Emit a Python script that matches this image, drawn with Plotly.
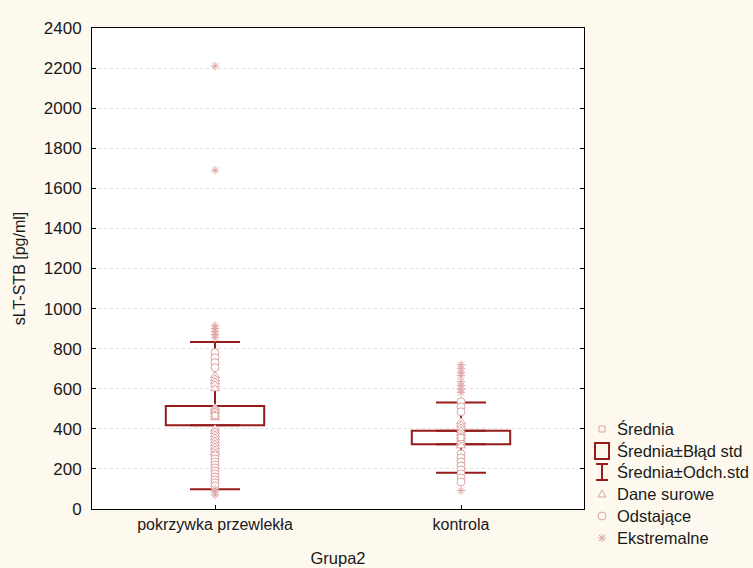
import numpy as np
import plotly.graph_objects as go

# ---- data -------------------------------------------------------------
categories = ["pokrzywka przewlekła", "kontrola"]

means = [466.0, 356.5]
std_errors = [47.5, 33.5]
std_devs = [367.5, 175.5]

raw_pokrzywka = [665, 650, 635, 620, 600, 505, 495, 485, 470, 455,
                 400, 385, 370, 355, 340, 325, 310, 295, 280]
outliers_pokrzywka = [780, 755, 730, 705, 265, 250, 235, 220, 205, 190,
                      175, 160, 145, 130, 115]
extremes_pokrzywka = [2210, 1690, 915, 900, 885, 870, 855, 100, 85, 70]

raw_kontrola = [435, 420, 405, 390, 375, 360, 345, 330, 315]
outliers_kontrola = [535, 510, 485, 275, 255, 235, 215, 195, 175, 155, 135]
extremes_kontrola = [720, 700, 680, 665, 635, 615, 598, 582, 92]

y_ticks = list(range(0, 2401, 200))

legend_labels = ["Średnia", "Średnia±Błąd std", "Średnia±Odch.std",
                 "Dane surowe", "Odstające", "Ekstremalne"]

# ---- styling ----------------------------------------------------------
DARK = "#961c1c"
PINK = "#dfa3a3"
PAPER = "#fdf9ef"
FONT = "Liberation Sans, Arial, sans-serif"
TXT = "#1a1a1a"
FS = 16.5

W, H = 753, 568
L, R, T, B = 92, 584, 28, 509   # plot area in pixels


def px_x(px):
    return (px - L) / (R - L)


def px_y(py):
    return (B - py) / (B - T)


fig = go.Figure()

means_a = np.array(means)
se_a = np.array(std_errors)
sd_a = np.array(std_devs)

# mean ± standard error box
fig.add_trace(go.Bar(
    x=categories, y=2 * se_a, base=means_a - se_a, width=0.4,
    marker=dict(color="rgba(0,0,0,0)", line=dict(color=DARK, width=2)),
    showlegend=False, hoverinfo="skip"))

# mean ± standard deviation whiskers (from box edges outwards)
fig.add_trace(go.Scatter(
    x=categories, y=means_a + se_a, mode="markers",
    marker=dict(size=1, opacity=0),
    error_y=dict(type="data", symmetric=False, array=sd_a - se_a,
                 arrayminus=[0] * len(categories), width=25,
                 thickness=2, color=DARK),
    showlegend=False, hoverinfo="skip"))
fig.add_trace(go.Scatter(
    x=categories, y=means_a - se_a, mode="markers",
    marker=dict(size=1, opacity=0),
    error_y=dict(type="data", symmetric=False, array=[0] * len(categories),
                 arrayminus=sd_a - se_a, width=25,
                 thickness=2, color=DARK),
    showlegend=False, hoverinfo="skip"))


def points(values, cat, symbol, size):
    if symbol.startswith("asterisk"):
        marker = dict(symbol=symbol, size=size, color=PINK,
                      line=dict(color=PINK, width=1))
    else:
        marker = dict(symbol=symbol, size=size, color="white",
                      line=dict(color=PINK, width=1))
    return go.Scatter(x=[cat] * len(values), y=values, mode="markers",
                      marker=marker, showlegend=False)


fig.add_trace(points(raw_pokrzywka, categories[0], "triangle-up", 8))
fig.add_trace(points(raw_kontrola, categories[1], "triangle-up", 8))
fig.add_trace(points(outliers_pokrzywka, categories[0], "circle", 8))
fig.add_trace(points(outliers_kontrola, categories[1], "circle", 8))
fig.add_trace(points(extremes_pokrzywka, categories[0], "asterisk-open", 7))
fig.add_trace(points(extremes_kontrola, categories[1], "asterisk-open", 7))
fig.add_trace(go.Scatter(
    x=categories, y=means, mode="markers",
    marker=dict(symbol="square", size=6, color="white",
                line=dict(color=PINK, width=1)),
    showlegend=False))

# ---- hand-drawn legend -------------------------------------------------
shapes = []
annotations = []
sym_x = 602
text_x = 615
rows_y = [429, 451, 472, 494, 516, 538]


def line(x0, y0, x1, y1, color, width):
    shapes.append(dict(type="line", xref="paper", yref="paper",
                       x0=px_x(x0), y0=px_y(y0), x1=px_x(x1), y1=px_y(y1),
                       line=dict(color=color, width=width)))


# Średnia: small square
shapes.append(dict(type="rect", xref="paper", yref="paper",
                   x0=px_x(sym_x - 3), x1=px_x(sym_x + 3),
                   y0=px_y(rows_y[0] + 3), y1=px_y(rows_y[0] - 3),
                   line=dict(color=PINK, width=1)))
# Średnia±Błąd std: large box
shapes.append(dict(type="rect", xref="paper", yref="paper",
                   x0=px_x(sym_x - 7), x1=px_x(sym_x + 7),
                   y0=px_y(rows_y[1] + 8), y1=px_y(rows_y[1] - 8),
                   line=dict(color=DARK, width=2)))
# Średnia±Odch.std: I-beam
yc = rows_y[2]
line(sym_x, yc - 8, sym_x, yc + 8, DARK, 2)
line(sym_x - 6, yc - 8, sym_x + 6, yc - 8, DARK, 2)
line(sym_x - 6, yc + 8, sym_x + 6, yc + 8, DARK, 2)
# Dane surowe: triangle
yc = rows_y[3]
shapes.append(dict(type="path", xref="paper", yref="paper",
                   path="M {} {} L {} {} L {} {} Z".format(
                       px_x(sym_x), px_y(yc - 4),
                       px_x(sym_x - 4), px_y(yc + 3),
                       px_x(sym_x + 4), px_y(yc + 3)),
                   line=dict(color=PINK, width=1)))
# Odstające: circle
yc = rows_y[4]
shapes.append(dict(type="circle", xref="paper", yref="paper",
                   x0=px_x(sym_x - 4), x1=px_x(sym_x + 4),
                   y0=px_y(yc + 4), y1=px_y(yc - 4),
                   line=dict(color=PINK, width=1)))
# Ekstremalne: asterisk
yc = rows_y[5]
line(sym_x, yc - 4, sym_x, yc + 4, PINK, 1)
line(sym_x - 4, yc, sym_x + 4, yc, PINK, 1)
line(sym_x - 3, yc - 3, sym_x + 3, yc + 3, PINK, 1)
line(sym_x - 3, yc + 3, sym_x + 3, yc - 3, PINK, 1)

for label, yy in zip(legend_labels, rows_y):
    annotations.append(dict(text=label, xref="paper", yref="paper",
                            x=px_x(text_x), y=px_y(yy), xanchor="left",
                            yanchor="middle", showarrow=False,
                            font=dict(family=FONT, size=FS, color=TXT)))

# ---- layout -----------------------------------------------------------
fig.update_layout(
    width=W, height=H,
    margin=dict(l=L, r=W - R, t=T, b=H - B, autoexpand=False),
    paper_bgcolor=PAPER, plot_bgcolor="white",
    font=dict(family=FONT, size=FS, color=TXT),
    shapes=shapes, annotations=annotations,
    showlegend=False, hovermode=False,
    xaxis=dict(type="category", categoryorder="array",
               categoryarray=categories, range=[-0.5, 1.5],
               automargin=False,
               showline=True, linecolor="black", linewidth=1, mirror=True,
               ticks="inside", ticklen=4, tickcolor="black",
               ticklabelstandoff=1,
               tickfont=dict(family=FONT, size=16, color=TXT),
               showgrid=False, zeroline=False,
               title=dict(text="Grupa2", standoff=20,
                          font=dict(family=FONT, size=16.5, color=TXT))),
    yaxis=dict(range=[0, 2400], tickvals=y_ticks, automargin=False,
               showline=True, linecolor="black", linewidth=1,
               mirror="ticks", ticks="inside", ticklen=4, tickcolor="black",
               ticklabelstandoff=6,
               tickfont=dict(family=FONT, size=17, color=TXT),
               showgrid=True, gridcolor="#e0e0e0", griddash="dot",
               gridwidth=1, zeroline=False,
               title=dict(text="sLT-STB [pg/ml]", standoff=14,
                          font=dict(family=FONT, size=16, color=TXT))),
)

fig.write_html("out.html")
